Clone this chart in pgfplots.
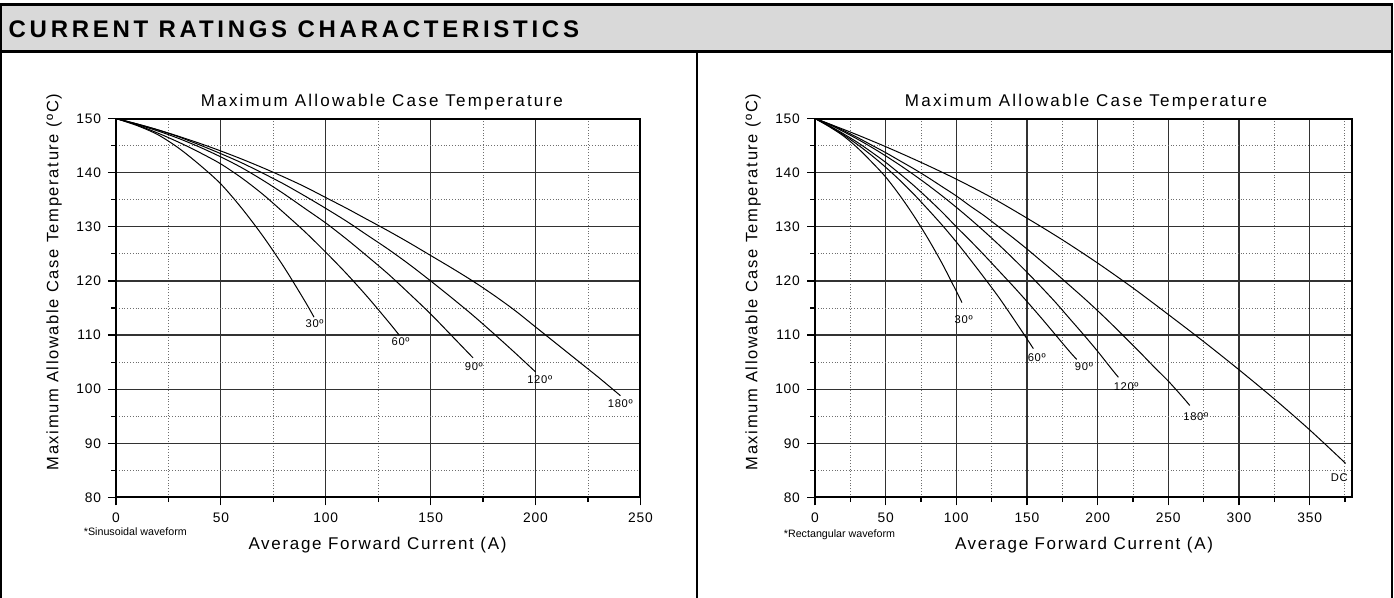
\documentclass[border=0pt]{standalone}
\usepackage{fontspec}
\setmainfont{Liberation Sans}
\newfontfamily\hdrfont[LetterSpace=15.5]{Liberation Sans}
\newfontfamily\spfont[LetterSpace=10]{Liberation Sans}
\newfontfamily\ttlfont[LetterSpace=13]{Liberation Sans}
\newfontfamily\tickfont[LetterSpace=6]{Liberation Sans}
\usepackage{pgfplots}
\pgfplotsset{compat=1.18}
\definecolor{hdrgray}{RGB}{217,217,217}
\definecolor{majgrid}{RGB}{50,50,50}
\definecolor{mingrid}{RGB}{110,110,110}

\pgfplotsset{
  ratingaxis/.style={
    scale only axis, anchor=south west,
    height=189.5pt,
    ymin=80, ymax=150,
    ytick={80,90,...,150}, minor ytick={85,95,...,145},
    grid=both,
    major grid style={majgrid, line width=0.6pt},
    minor grid style={mingrid, densely dotted, line width=0.45pt},
    axis line style={black, line width=1pt},
    tick align=outside,
    tick pos=left,
    major tick length=4pt, minor tick length=2.3pt,
    tick style={black, line width=0.6pt},
    /pgf/number format/assume math mode=true,
    ticklabel style={font=\tickfont\fontsize{6.9pt}{8pt}\selectfont},
    clip=false,
  },
  curve/.style={black, line width=0.5pt, mark=none, smooth},
}
\tikzset{lbl/.style={font=\tickfont\fontsize{5.6pt}{6.5pt}\selectfont, inner sep=0pt}}

\begin{document}
\begin{tikzpicture}
\useasboundingbox (0,0) rectangle (697pt,-299pt);
% header band and frame
\fill[hdrgray] (0.6pt,-2.15pt) rectangle (696pt,-25.65pt);
\draw[line width=1.3pt] (0.6pt,-299pt) -- (0.6pt,-2.15pt) -- (696pt,-2.15pt) -- (696pt,-299pt);
\draw[line width=1.3pt] (0.6pt,-25.65pt) -- (696pt,-25.65pt);
\draw[line width=1pt] (348.5pt,-25.65pt) -- (348.5pt,-299pt);
\node[anchor=base west, inner sep=0pt, font=\hdrfont\bfseries\fontsize{12pt}{14pt}\selectfont] at (4.15pt,-18.65pt) {CURRENT RATINGS CHARACTERISTICS};

% ---------------- left: sinusoidal ----------------
\begin{axis}[ratingaxis, at={(58pt,-248.75pt)}, width=262.2pt,
  xmin=0, xmax=250, xtick={0,50,...,250}, minor xtick={25,75,...,225}]
\addplot[curve] coordinates {(0,150)(10,148.7)(20,147.0)(30,144.5)(40,141.4)(50,137.9)(60,133.4)(70,128.3)(80,122.6)(90,116.3)(94.4,113.3)};
\addplot[curve] coordinates {(0,150)(10,148.8)(20,147.3)(30,145.6)(40,143.7)(50,141.6)(60,139.0)(70,136.0)(80,132.6)(90,129.1)(100,125.3)(110,121.3)(120,117.0)(130,112.4)(135,110.0)};
\addplot[curve] coordinates {(0,150)(10,148.9)(20,147.7)(30,146.3)(40,144.7)(50,142.9)(60,140.9)(70,138.6)(80,136.1)(90,133.4)(100,130.7)(110,127.7)(120,124.5)(130,121.2)(140,117.6)(150,113.9)(160,109.9)(170.2,105.8)};
\addplot[curve] coordinates {(0,150)(10,149.0)(20,147.9)(30,146.6)(40,145.1)(50,143.5)(60,141.8)(70,139.9)(80,137.9)(90,135.7)(100,133.4)(110,131.0)(120,128.4)(130,125.8)(140,123.0)(150,120.0)(160,116.9)(170,113.7)(180,110.3)(190,106.8)(200,103.2)};
\addplot[curve] coordinates {(0,150)(10,149.0)(20,147.9)(30,146.7)(40,145.4)(50,144.0)(60,142.5)(70,140.9)(80,139.2)(90,137.4)(100,135.4)(110,133.4)(120,131.3)(130,129.2)(140,127.0)(150,124.7)(160,122.4)(170,120.0)(180,117.4)(190,114.6)(200,111.5)(210,108.4)(220,105.3)(230,102.2)(240.5,98.8)};
\node[lbl] at (axis cs:94.7,112.1) {30º};
\node[lbl] at (axis cs:135.7,108.7) {60º};
\node[lbl] at (axis cs:170.6,104.1) {90º};
\node[lbl] at (axis cs:202,101.8) {120º};
\node[lbl] at (axis cs:240.4,97.3) {180º};
\end{axis}

% ---------------- right: rectangular ----------------
\begin{axis}[ratingaxis, at={(407.5pt,-248.75pt)}, width=268.5pt,
  xmin=0, xmax=380, xtick={0,50,...,350}, minor xtick={25,75,...,375}]
\addplot[curve] coordinates {(0,150)(10,148.5)(20,146.8)(30,144.6)(40,142.0)(50,139.2)(60,135.8)(70,132.0)(80,127.8)(90,123.2)(100,118.1)(104,116.0)};
\addplot[curve] coordinates {(0,150)(10,148.6)(20,147.0)(30,145.2)(40,143.2)(50,141.0)(60,138.6)(70,136.0)(80,133.2)(90,130.3)(100,127.2)(110,123.9)(120,120.5)(130,117.0)(140,113.2)(150,109.3)(154.5,107.5)};
\addplot[curve] coordinates {(0,150)(10,148.7)(20,147.2)(30,145.6)(40,143.8)(50,141.9)(60,139.8)(70,137.6)(80,135.2)(90,132.7)(100,130.0)(110,127.4)(120,124.7)(130,121.9)(140,119.1)(150,116.2)(160,113.2)(170,110.1)(180,107.0)(185.2,105.5)};
\addplot[curve] coordinates {(0,150)(10,148.9)(20,147.6)(30,146.2)(40,144.7)(50,143.1)(60,141.4)(70,139.6)(80,137.7)(90,135.7)(100,133.6)(110,131.4)(120,129.1)(130,126.7)(140,124.2)(150,121.6)(160,118.9)(170,116.1)(180,113.1)(190,110.1)(200,107.0)(210,103.7)(214.7,102.2)};
\addplot[curve] coordinates {(0,150)(10,149.0)(20,147.8)(30,146.5)(40,145.1)(50,143.7)(60,142.2)(70,140.7)(80,139.1)(90,137.4)(100,135.7)(110,133.8)(120,132.0)(130,130.0)(140,128.0)(150,125.9)(160,123.7)(170,121.5)(180,119.2)(190,116.9)(200,114.5)(210,112.0)(220,109.4)(230,106.8)(240,104.1)(250,101.5)(260,98.6)(265.2,97.0)};
\addplot[curve] coordinates {(0,150)(25,147.5)(50,144.8)(75,141.9)(100,138.8)(125,135.4)(150,131.6)(175,127.6)(200,123.3)(225,118.7)(250,113.8)(275,108.8)(300,103.6)(325,98.2)(350,92.5)(375.5,86.3)};
\node[lbl] at (axis cs:105.2,112.9) {30º};
\node[lbl] at (axis cs:156.9,105.9) {60º};
\node[lbl] at (axis cs:190.3,104.1) {90º};
\node[lbl] at (axis cs:220.2,100.5) {120º};
\node[lbl] at (axis cs:269.5,94.95) {180º};
\node[lbl] at (axis cs:371,83.7) {DC};
\end{axis}

% titles and labels
\begin{scope}[every node/.style={inner sep=0pt}]
\node[font=\ttlfont\fontsize{8.5pt}{10pt}\selectfont] at (191pt,-51pt) {Maximum Allowable Case Temperature};
\node[font=\ttlfont\fontsize{8.5pt}{10pt}\selectfont] at (543pt,-51pt) {Maximum Allowable Case Temperature};
\node[font=\spfont\fontsize{8.5pt}{10pt}\selectfont] at (188.75pt,-272.4pt) {Average Forward Current (A)};
\node[font=\spfont\fontsize{8.5pt}{10pt}\selectfont] at (542pt,-272.4pt) {Average Forward Current (A)};
\node[rotate=90, font=\spfont\fontsize{8.25pt}{10pt}\selectfont] at (27pt,-141pt) {Maximum Allowable Case Temperature (ºC)};
\node[rotate=90, font=\spfont\fontsize{8.25pt}{10pt}\selectfont] at (376.5pt,-141pt) {Maximum Allowable Case Temperature (ºC)};
\node[anchor=west, font=\fontsize{5.35pt}{6pt}\selectfont] at (41.75pt,-265.75pt) {*Sinusoidal waveform};
\node[anchor=west, font=\fontsize{5.35pt}{6pt}\selectfont] at (391.75pt,-267.5pt) {*Rectangular waveform};
\end{scope}
\end{tikzpicture}
\end{document}
